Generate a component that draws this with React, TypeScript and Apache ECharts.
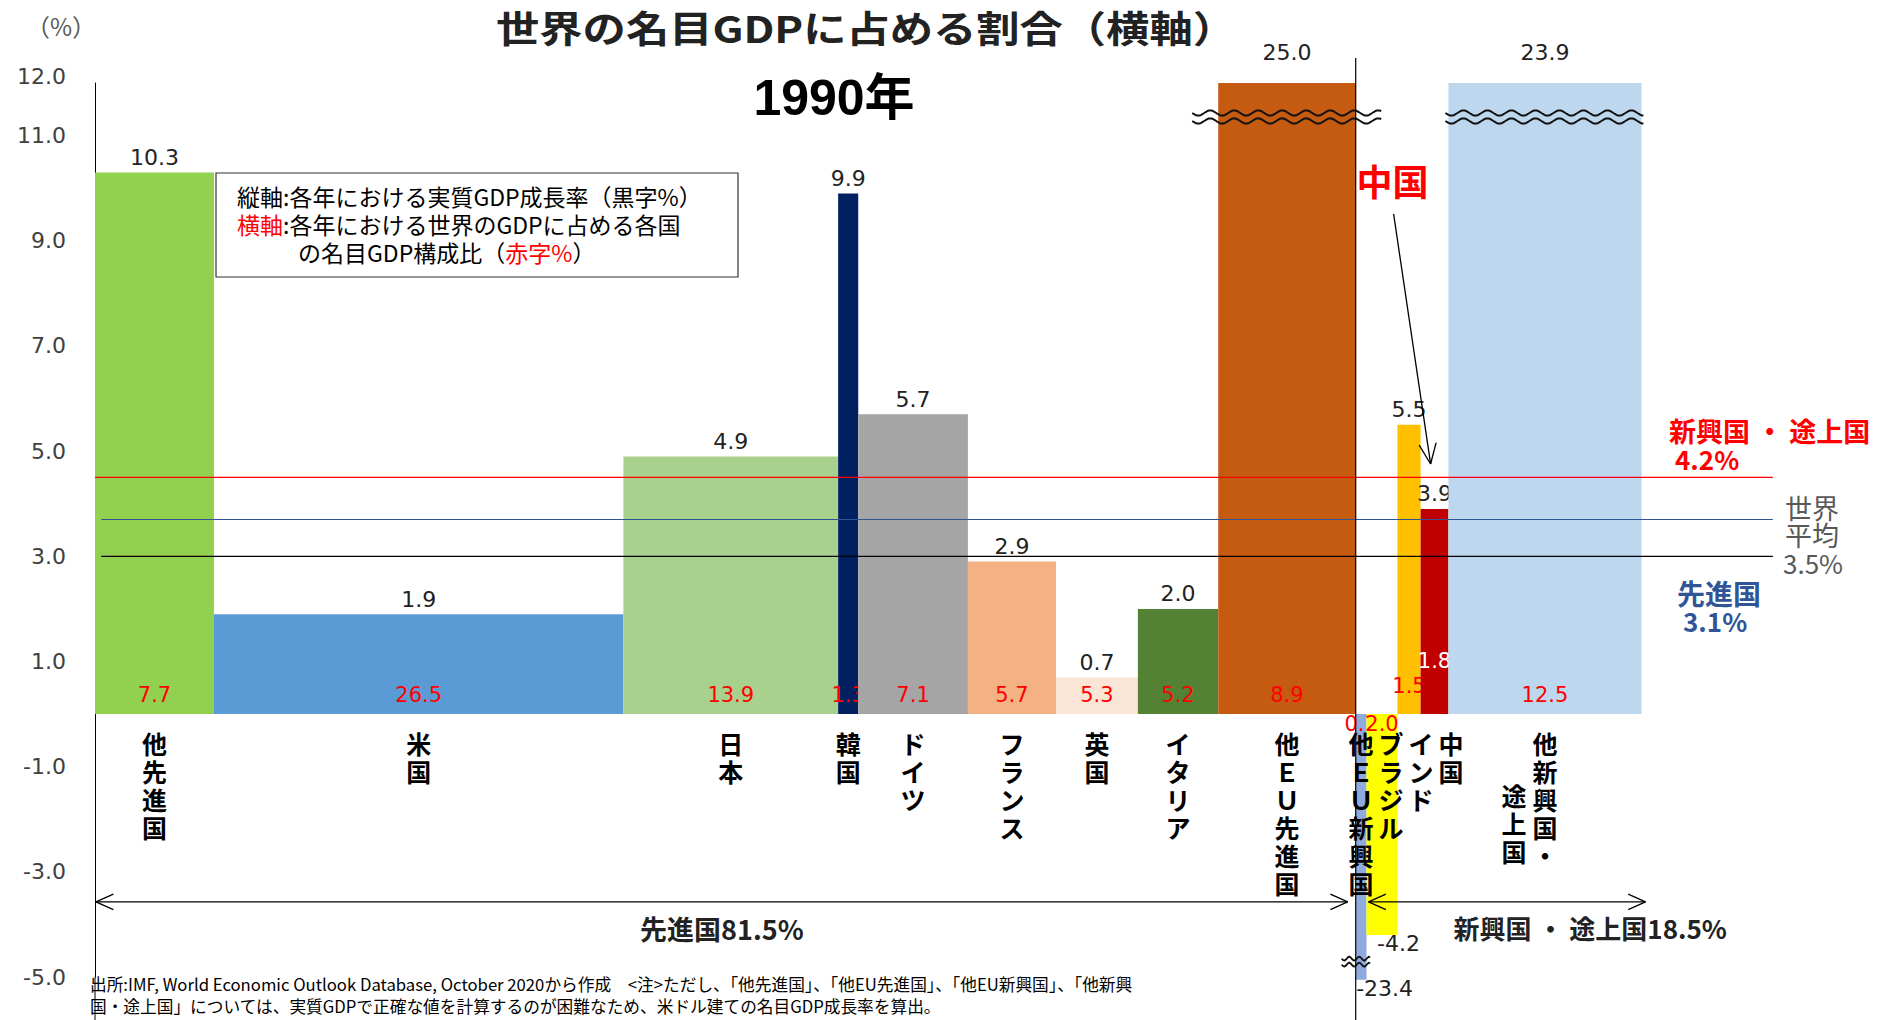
import React, { useEffect, useRef } from 'react';
import * as echarts from 'echarts';

// ---------- data ----------
const categories = ['他先進国', '米国', '日本', '韓国', 'ドイツ', 'フランス', '英国', 'イタリア', '他EU先進国', '他EU新興国', 'ブラジル', 'インド', '中国', '他新興国・途上国'];
// horizontal axis: share of world nominal GDP (%)
const gdpShares = [7.7, 26.5, 13.9, 1.3, 7.1, 5.7, 5.3, 5.2, 8.9, 0.7, 2.0, 1.5, 1.8, 12.5];
// vertical axis: real GDP growth (%)
const growthRates = [10.3, 1.9, 4.9, 9.9, 5.7, 2.9, 0.7, 2.0, 25.0, -23.4, -4.2, 5.5, 3.9, 23.9];
const advancedCount = 9;
const groupShareTotals = [81.5, 18.5];
// average growth lines (as drawn) and their stated values
const referenceLineValues = [4.5, 3.7, 3.0];
const groupAverages = [4.2, 3.5, 3.1];
const yTickLabels = [-5, -3, -1, 1, 3, 5, 7, 9, 11, 12];

// ---------- styles ----------
const barColors = ['#92D050', '#5B9BD5', '#A9D18E', '#002060', '#A5A5A5', '#F4B183', '#FBE5D6', '#548235', '#C55A11', '#8FAADC', '#FFFF00', '#FFC000', '#C00000', '#BDD7EE'];
const referenceLineColors = ['#FF0000', '#2F5597', '#000000'];
const shareLabelLift: Record<string, number> = { 'インド': 9, '中国': 34 };
const shareLabelFill: Record<string, string> = { '中国': '#FFFFFF' };

const W = 1885, H = 1020;
const Y_MIN = -5, Y_MAX = 12, X_MAX = 110;
const BREAK_LOW = -5.05;
const PX_PER_PCT = 15.45;
const GRID_LEFT = 95, GRID_TOP = 83, GRID_BOTTOM = 43;
const GRID_RIGHT = W - GRID_LEFT - X_MAX * PX_PER_PCT;
const LABEL_MIN_GAP = 30;
const CJK = '"Noto Sans CJK JP", sans-serif';
const NUM = '"DejaVu Sans", sans-serif';

const starts: number[] = [];
let acc = 0;
for (const s of gdpShares) { starts.push(acc); acc += s; }
const totalShare = acc;
const barData = gdpShares.map((s, i) => [starts[i], starts[i] + s, growthRates[i], s, i]);

function toVertical(s: string) {
  return s.split('').map(c => (c === 'E' ? 'Ｅ' : c === 'U' ? 'Ｕ' : c)).join('\n');
}
function labelColumns(name: string) {
  const k = name.indexOf('・');
  if (k > 0 && k < name.length - 1) return [name.slice(0, k + 1), name.slice(k + 1)];
  return [name];
}
function wave(x0: number, x1: number, yc: number, amp: number, period: number) {
  const pts: number[][] = [];
  for (let x = x0; x <= x1; x += 1.5) pts.push([x, yc + amp * Math.sin(((x - x0) / period) * 2 * Math.PI)]);
  return pts;
}
function arrowHead(tip: number[], from: number[], len: number, ang: number) {
  const dx = tip[0] - from[0], dy = tip[1] - from[1];
  const l = Math.hypot(dx, dy);
  const ux = dx / l, uy = dy / l;
  const out: any[] = [];
  for (const s of [1, -1]) {
    const c = Math.cos(s * ang), sn = Math.sin(s * ang);
    const rx = ux * c - uy * sn, ry = ux * sn + uy * c;
    out.push({ type: 'line', shape: { x1: tip[0], y1: tip[1], x2: tip[0] - rx * len, y2: tip[1] - ry * len }, style: { stroke: '#000', lineWidth: 1.3 } });
  }
  return out;
}

export default function App() {
  const ref = useRef<HTMLDivElement>(null);
  useEffect(() => {
    document.body.style.margin = '0';
    const chart = echarts.init(ref.current!, undefined, { renderer: 'svg' });

    // pixel x of bar centres, then category labels spread so narrow bars keep readable columns
    const toPx = (v: number) => GRID_LEFT + v * PX_PER_PCT;
    const labelX: number[] = [];
    gdpShares.forEach((s, i) => {
      const c = toPx(starts[i] + s / 2);
      labelX.push(i > 0 ? Math.max(c, labelX[i - 1] + (gdpShares[i - 1] < 3 || s < 3 ? LABEL_MIN_GAP : 0)) : c);
    });

    const barsSeries = {
      type: 'custom',
      coordinateSystem: 'cartesian2d',
      clip: false,
      z: 2,
      data: barData,
      renderItem: (params: any, api: any) => {
        const x0 = api.value(0), x1 = api.value(1), g = api.value(2), share = api.value(3), i = api.value(4);
        const name = categories[i];
        const shown = Math.max(BREAK_LOW, Math.min(Y_MAX, g));
        const pz = api.coord([x0, 0]);
        const pe = api.coord([x1, shown]);
        const left = pz[0], right = pe[0], yz = pz[1], ye = pe[1];
        const cx = (left + right) / 2;
        const lx = labelX[i] + (cx - toPx((x0 + x1) / 2));
        const children: any[] = [
          { type: 'rect', shape: { x: left, y: Math.min(yz, ye), width: right - left, height: Math.abs(ye - yz) }, style: { fill: barColors[i] } },
        ];
        const truncTop = g > Y_MAX, truncBottom = g < BREAK_LOW;
        if (truncTop) {
          const yc = ye + 34;
          const oh = i === advancedCount - 1 ? 26 : 3;
          for (const d of [-4, 4]) {
            children.push({ type: 'polyline', shape: { points: wave(left - oh, right + oh, yc + d, 2.6, 24) }, style: { stroke: '#111', lineWidth: 2, fill: 'none' } });
          }
        }
        if (truncBottom) {
          const yc = ye - 18;
          for (const d of [-3, 3]) {
            children.push({ type: 'polyline', shape: { points: wave(left - 14, right + 5, yc + d, 2, 10) }, style: { stroke: '#111', lineWidth: 1.8, fill: 'none' } });
          }
        }
        // growth value label (black)
        if (g >= 0) {
          children.push({ type: 'text', style: { text: g.toFixed(1), x: cx, y: ye - (truncTop ? 20 : 4), align: 'center', verticalAlign: 'bottom', font: `22px ${NUM}`, fill: '#222' } });
        } else {
          children.push({ type: 'text', style: { text: g.toFixed(1), x: cx - 5, y: ye - 2, align: 'left', verticalAlign: 'top', font: `22px ${NUM}`, fill: '#222' } });
        }
        // share label (red)
        const lift = shareLabelLift[name] || 0;
        children.push({
          type: 'text',
          style: {
            text: share.toFixed(1), x: cx, y: g >= 0 ? yz - 19 - lift : yz + 10,
            align: 'center', verticalAlign: 'middle', font: `21px ${NUM}`, fill: shareLabelFill[name] || '#FF0000',
          },
        });
        // category label (vertical)
        labelColumns(name).forEach((col, j) => {
          children.push({
            type: 'text',
            z2: 5,
            style: {
              text: toVertical(col), x: lx - 31 * j, y: yz + 15 + 52 * j, align: 'center', verticalAlign: 'top',
              font: `bold 25px ${CJK}`, lineHeight: 28, fill: '#000',
            },
          });
        });
        return { type: 'group', children };
      },
    };

    const refLinesSeries = {
      type: 'custom',
      coordinateSystem: 'cartesian2d',
      clip: false,
      z: 5,
      data: referenceLineValues.map((v, i) => [0, v, i]),
      renderItem: (params: any, api: any) => {
        const v = api.value(1), i = api.value(2);
        const p0 = api.coord([i === 0 ? 0 : 0.4, v]);
        const p1 = api.coord([108.6, v]);
        return { type: 'line', shape: { x1: p0[0], y1: p0[1], x2: p1[0], y2: p1[1] }, style: { stroke: referenceLineColors[i], lineWidth: 1.2 } };
      },
    };

    const annotationSeries = {
      type: 'custom',
      coordinateSystem: 'cartesian2d',
      clip: false,
      z: 6,
      data: [[0, 0]],
      renderItem: (params: any, api: any) => {
        const children: any[] = [];
        const advEnd = starts[advancedCount];
        const emStart = starts[advancedCount + 1];
        const pDiv = api.coord([advEnd, Y_MAX]);
        children.push({ type: 'line', shape: { x1: pDiv[0], y1: pDiv[1] - 25, x2: pDiv[0], y2: H }, style: { stroke: '#000', lineWidth: 1.2 } });
        const pAx = api.coord([0, Y_MIN]);
        children.push({ type: 'line', shape: { x1: pAx[0], y1: pAx[1], x2: pAx[0], y2: H }, style: { stroke: '#000', lineWidth: 1 } });
        // group arrows
        const ya = api.coord([0, -3.57])[1];
        const a1 = [api.coord([0, 0])[0] + 1, api.coord([advEnd, 0])[0] - 8];
        const a2 = [api.coord([emStart, 0])[0] + 2, api.coord([totalShare, 0])[0] + 4];
        for (const [xa, xb] of [a1, a2]) {
          children.push({ type: 'line', shape: { x1: xa, y1: ya, x2: xb, y2: ya }, style: { stroke: '#000', lineWidth: 1.2 } });
          children.push(...arrowHead([xa, ya], [xb, ya], 19, 0.42));
          children.push(...arrowHead([xb, ya], [xa, ya], 19, 0.42));
        }
        children.push({ type: 'text', style: { text: `先進国${groupShareTotals[0].toFixed(1)}%`, x: (a1[0] + a1[1]) / 2, y: ya + 27, align: 'center', verticalAlign: 'middle', font: `bold 27px ${CJK}`, fill: '#222' } });
        children.push({ type: 'text', style: { text: `新興国 ・ 途上国${groupShareTotals[1].toFixed(1)}%`, x: a2[0] + 85, y: ya + 26, align: 'left', verticalAlign: 'middle', font: `bold 26px ${CJK}`, fill: '#222' } });
        // 中国 callout
        const ci = categories.indexOf('中国');
        const pc = api.coord([starts[ci], growthRates[ci]]);
        const tip = [pc[0] + 10, pc[1] - 45];
        const tail = [tip[0] - 37, tip[1] - 250];
        children.push({ type: 'line', shape: { x1: tail[0], y1: tail[1], x2: tip[0], y2: tip[1] }, style: { stroke: '#000', lineWidth: 1.3 } });
        children.push(...arrowHead(tip, tail, 22, 0.4));
        children.push({ type: 'text', style: { text: '中国', x: tail[0] - 1, y: tail[1] - 34, align: 'center', verticalAlign: 'middle', font: `bold 36px ${CJK}`, fill: '#FF0000' } });
        return { type: 'group', children };
      },
    };

    const graphic: any[] = [
      { type: 'text', x: 26, y: 25, style: { text: '（%）', font: `24px ${CJK}`, fill: '#595959', align: 'left', verticalAlign: 'middle' } },
      { type: 'text', x: 866, y: 27, scaleX: 1.17, style: { text: '世界の名目GDPに占める割合（横軸）', font: `bold 37px ${CJK}`, fill: '#222', align: 'center', verticalAlign: 'middle' } },
      { type: 'text', x: 834, y: 98, style: { text: '1990年', font: `bold 50px "Liberation Sans Narrow", "Liberation Sans", ${CJK}`, fill: '#000', align: 'center', verticalAlign: 'middle' } },
      { type: 'rect', z: 10, shape: { x: 216, y: 173, width: 522, height: 104 }, style: { fill: '#fff', stroke: '#333', lineWidth: 1.2 } },
      { type: 'text', z: 11, x: 237, y: 196, style: { text: '縦軸:各年における実質GDP成長率（黒字%）', font: `23px ${CJK}`, fill: '#000', align: 'left', verticalAlign: 'middle' } },
      { type: 'text', z: 11, x: 237, y: 224, style: { text: '{r|横軸}:各年における世界のGDPに占める各国', font: `23px ${CJK}`, fill: '#000', align: 'left', verticalAlign: 'middle', rich: { r: { fill: '#FF0000', font: `23px ${CJK}` } } } },
      { type: 'text', z: 11, x: 298, y: 252, style: { text: 'の名目GDP構成比（{r|赤字%}）', font: `23px ${CJK}`, fill: '#000', align: 'left', verticalAlign: 'middle', rich: { r: { fill: '#FF0000', font: `23px ${CJK}` } } } },
      // average labels
      { type: 'text', x: 1669, y: 430, style: { text: '新興国 ・ 途上国', font: `bold 27px ${CJK}`, fill: '#FF0000', align: 'left', verticalAlign: 'middle' } },
      { type: 'text', x: 1675, y: 458, style: { text: `${groupAverages[0].toFixed(1)}%`, font: `bold 26px ${CJK}`, fill: '#FF0000', align: 'left', verticalAlign: 'middle' } },
      { type: 'text', x: 1785, y: 507, style: { text: '世界', font: `27px ${CJK}`, fill: '#595959', align: 'left', verticalAlign: 'middle' } },
      { type: 'text', x: 1785, y: 534, style: { text: '平均', font: `27px ${CJK}`, fill: '#595959', align: 'left', verticalAlign: 'middle' } },
      { type: 'text', x: 1783, y: 562, style: { text: `${groupAverages[1].toFixed(1)}%`, font: `26px ${CJK}`, fill: '#595959', align: 'left', verticalAlign: 'middle' } },
      { type: 'text', x: 1677, y: 593, style: { text: '先進国', font: `bold 28px ${CJK}`, fill: '#2F5597', align: 'left', verticalAlign: 'middle' } },
      { type: 'text', x: 1683, y: 620, style: { text: `${groupAverages[2].toFixed(1)}%`, font: `bold 26px ${CJK}`, fill: '#2F5597', align: 'left', verticalAlign: 'middle' } },
      // footnote
      { type: 'text', x: 90, y: 984, style: { text: '出所:IMF, World Economic Outlook Database, October 2020から作成　<注>ただし、「他先進国」、「他EU先進国」、「他EU新興国」、「他新興', font: `16.7px ${CJK}`, fill: '#000', align: 'left', verticalAlign: 'middle' } },
      { type: 'text', x: 90, y: 1006, style: { text: '国・途上国」については、実質GDPで正確な値を計算するのが困難なため、米ドル建ての名目GDP成長率を算出。', font: `16.7px ${CJK}`, fill: '#000', align: 'left', verticalAlign: 'middle' } },
    ];

    chart.setOption({
      animation: false,
      backgroundColor: '#ffffff',
      grid: { left: GRID_LEFT, right: GRID_RIGHT, top: GRID_TOP, bottom: GRID_BOTTOM, containLabel: false },
      xAxis: { type: 'value', min: 0, max: X_MAX, show: false },
      yAxis: {
        type: 'value', min: Y_MIN, max: Y_MAX, interval: 1,
        axisLine: { show: true, onZero: false, lineStyle: { color: '#000', width: 1 } },
        axisTick: { show: false },
        splitLine: { show: false },
        axisLabel: {
          margin: 29, fontSize: 22, color: '#404040', fontFamily: 'DejaVu Sans',
          formatter: (v: number) => {
            if (!yTickLabels.includes(v)) return '';
            const s = v.toFixed(1);
            return v === Y_MAX ? `{up|${s}}` : s;
          },
          rich: { up: { fontSize: 22, color: '#404040', fontFamily: 'DejaVu Sans', padding: [0, 0, 14, 0] } },
        },
      },
      series: [barsSeries, refLinesSeries, annotationSeries],
      graphic,
    });
    return () => chart.dispose();
  }, []);
  return <div ref={ref} style={{ width: W, height: H }} />;
}
